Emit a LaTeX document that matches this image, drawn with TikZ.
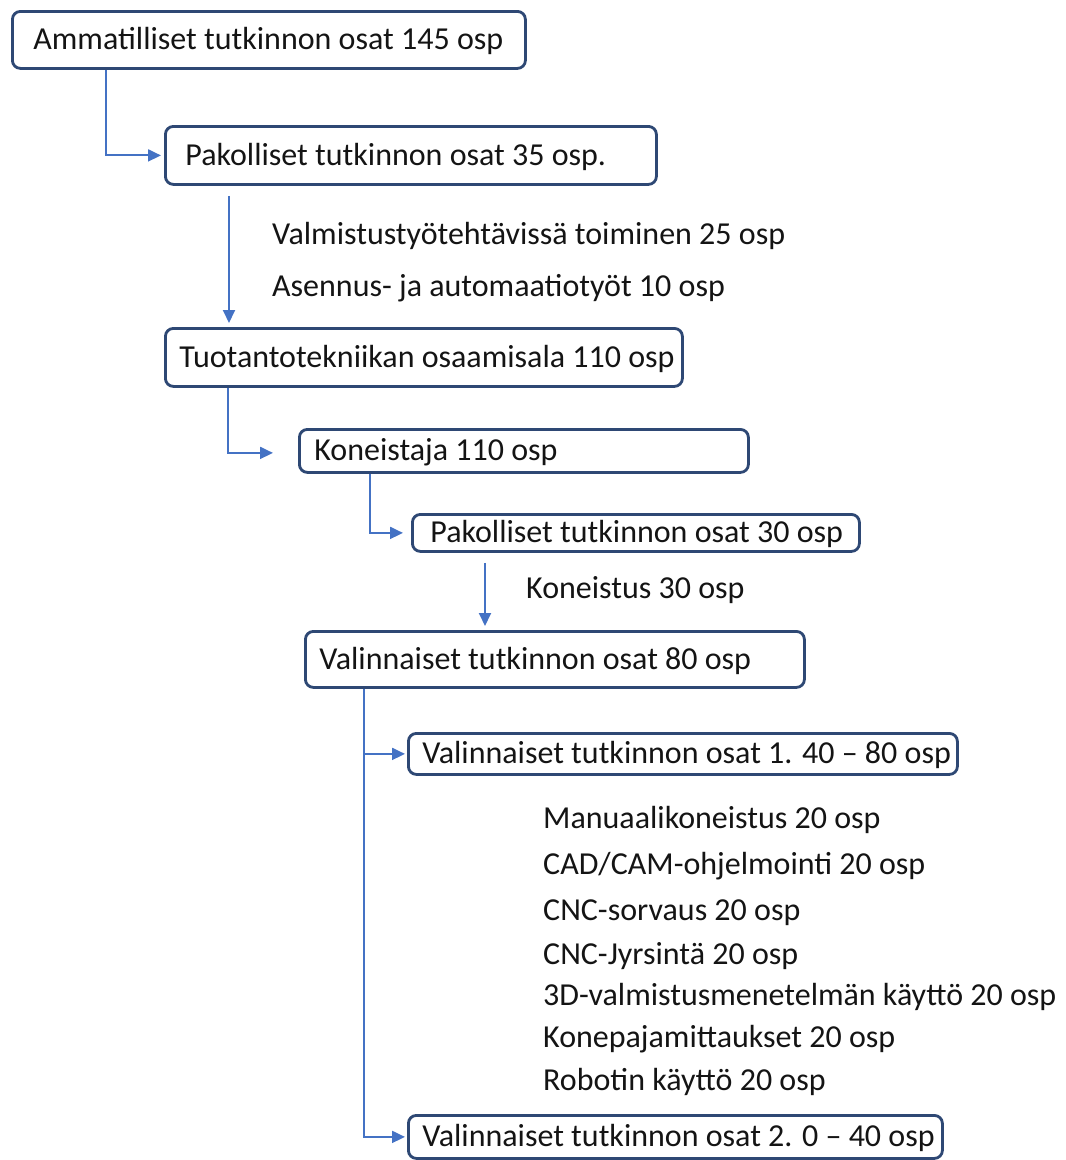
\documentclass[tikz,border=0pt]{standalone}
\usepackage{fontspec}
\setmainfont{Carlito}
\usetikzlibrary{arrows.meta,calc}
\definecolor{boxcol}{RGB}{46,72,116}
\definecolor{arrcol}{RGB}{68,114,196}
\definecolor{txtcol}{RGB}{20,20,20}
\newcommand{\boxtxt}[2]{\makebox[#1][l]{#2}}
\begin{document}
\begin{tikzpicture}[x=1pt,y=-1pt,
  every node/.style={font=\fontsize{32}{36}\selectfont, text=txtcol},
  box/.style={draw=boxcol, line width=2.8pt, rounded corners=8pt, anchor=north west,
    inner ysep=0pt, text height=27pt, text depth=7pt},
  plain/.style={inner sep=0pt, anchor=base west},
  arr/.style={draw=arrcol, line width=1.9pt, -{Triangle[length=13pt,width=12pt]}}]
\useasboundingbox (0,0) rectangle (1066,1160);
% boxes: inner width = W - 2*pad
\node[box, inner xsep=21pt, minimum height=57pt] (b1) at (11,10) {\boxtxt{471pt}{Ammatilliset tutkinnon osat 145 osp}};
\node[box, inner xsep=20pt, minimum height=58pt] (b2) at (164,125) {\boxtxt{451pt}{Pakolliset tutkinnon osat 35 osp.}};
\node[box, inner xsep=14pt, minimum height=58pt] (b3) at (164,327) {\boxtxt{489pt}{Tuotantotekniikan osaamisala 110 osp}};
\node[box, inner xsep=15pt, minimum height=43pt] (b4) at (298,428) {\boxtxt{419pt}{Koneistaja 110 osp}};
\node[box, inner xsep=18pt, minimum height=37pt] (b5) at (411,513) {\boxtxt{411pt}{Pakolliset tutkinnon osat 30 osp}};
\node[box, inner xsep=14pt, minimum height=56pt] (b6) at (304,630) {\boxtxt{471pt}{Valinnaiset tutkinnon osat 80 osp}};
\node[box, inner xsep=14pt, minimum height=41pt] (b7) at (407,732) {\boxtxt{521pt}{Valinnaiset tutkinnon osat 1. 40 -- 80 osp}};
\node[box, inner xsep=14pt, minimum height=43pt] (b8) at (407,1114) {\boxtxt{506pt}{Valinnaiset tutkinnon osat 2. 0 -- 40 osp}};
% plain texts
\node[plain] (t1) at (272,244) {Valmistustyötehtävissä toiminen 25 osp};
\node[plain] (t2) at (272,296) {Asennus- ja automaatiotyöt 10 osp};
\node[plain] (t3) at (526,598) {Koneistus 30 osp};
\node[plain] (l1) at (543,828) {Manuaalikoneistus 20 osp};
\node[plain] (l2) at (543,874) {CAD/CAM-ohjelmointi 20 osp};
\node[plain] (l3) at (543,920) {CNC-sorvaus 20 osp};
\node[plain] (l4) at (543,964) {CNC-Jyrsintä 20 osp};
\node[plain] (l5) at (543,1005) {3D-valmistusmenetelmän käyttö 20 osp};
\node[plain] (l6) at (543,1047) {Konepajamittaukset 20 osp};
\node[plain] (l7) at (543,1090) {Robotin käyttö 20 osp};
% connectors
\draw[arr, shorten >=3pt] ([xshift=95pt]b1.south west) |- (b2.west);
\draw[arr, shorten >=4pt] ([xshift=65pt,yshift=-10pt]b2.south west) -- ([xshift=65pt]b3.north west);
\draw[arr, shorten >=25pt] ([xshift=64pt]b3.south west) |- ([yshift=-2pt]b4.west);
\draw[arr, shorten >=8pt] ([xshift=-41pt]b4.south west -| b5.west) |- (b5.west);
\draw[arr, shorten >=4pt] ([xshift=74pt,yshift=-10pt]b5.south west) -- ([xshift=74pt]b5.south west |- b6.north);
\coordinate (trunk) at ([xshift=60pt]b6.south west);
\draw[arr, shorten >=2pt] (trunk) |- (b7.west);
\draw[arr, shorten >=2pt] (trunk) |- (b8.west);
\end{tikzpicture}
\end{document}
